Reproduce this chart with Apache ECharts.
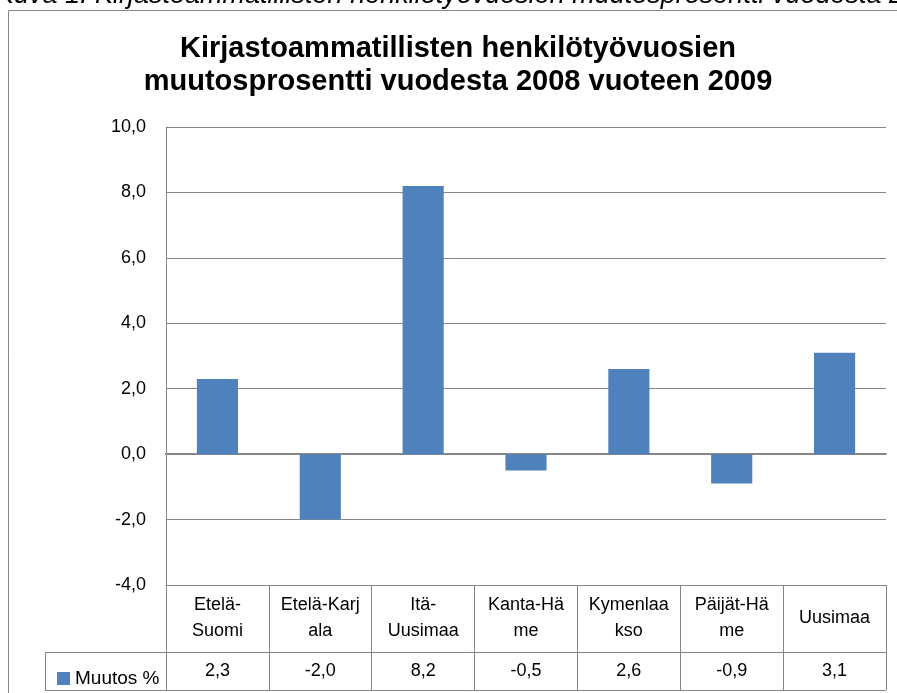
<!DOCTYPE html>
<html><head><meta charset="utf-8">
<script src="https://cdn.jsdelivr.net/npm/echarts@6/dist/echarts.min.js"></script>
<style>html,body{margin:0;padding:0;background:#fff}#c{width:897px;height:693px}</style>
</head><body><div id="c"></div>
<script>
const captionText = 'Kuva 1. Kirjastoammatillisten henkilötyövuosien muutosprosentti vuodesta 2008 vuoteen 2009';
const titleLines = ['Kirjastoammatillisten henkilötyövuosien', 'muutosprosentti vuodesta 2008 vuoteen 2009'];
const categories = ['Etelä-\nSuomi', 'Etelä-Karj\nala', 'Itä-\nUusimaa', 'Kanta-Hä\nme', 'Kymenlaa\nkso', 'Päijät-Hä\nme', 'Uusimaa'];
const seriesName = 'Muutos %';
const values = [2.3, -2.0, 8.2, -0.5, 2.6, -0.9, 3.1];
const yMin = -4, yMax = 10, yStep = 2;

const fmt = v => v.toFixed(1).replace('.', ',');
const FONT = "'Liberation Sans',Arial,sans-serif";
const GRID = {left: 166, right: 11, top: 127, bottom: 108};
const W = 897, H = 693;
const gx0 = GRID.left, gx1 = W - GRID.right, gyB = H - GRID.bottom;
const row1 = 67, row2 = 38;
const lineCol = '#868686';

const chart = echarts.init(document.getElementById('c'), null, {renderer: 'canvas'});
chart.setOption({
  animation: false,
  backgroundColor: '#fff',
  grid: GRID,
  legend: {
    data: [seriesName], left: 52, top: gyB + row1 + 12, icon: 'rect', itemWidth: 13, itemHeight: 13, itemGap: 4,
    textStyle: {fontFamily: FONT, fontSize: 19, color: '#000'}
  },
  xAxis: [
    {type: 'category', data: categories, position: 'bottom',
     axisLine: {show: true, onZero: true, lineStyle: {color: lineCol, width: 2}},
     axisTick: {show: false}, axisLabel: {show: false}},
    {type: 'category', data: categories, position: 'bottom',
     axisLine: {show: true, onZero: false, lineStyle: {color: lineCol, width: 1}},
     axisTick: {show: true, length: row1 + row2, lineStyle: {color: lineCol}},
     axisLabel: {show: true, margin: row1 / 2, verticalAlign: 'middle', lineHeight: 26,
                 fontFamily: FONT, fontSize: 18, color: '#000', interval: 0}},
    {type: 'category', data: values.map(fmt), position: 'bottom', offset: row1,
     axisLine: {show: false}, axisTick: {show: false},
     axisLabel: {show: true, margin: row2 / 2, verticalAlign: 'middle',
                 fontFamily: FONT, fontSize: 18, color: '#000', interval: 0}}
  ],
  yAxis: {
    type: 'value', min: yMin, max: yMax, interval: yStep,
    axisLine: {show: true, lineStyle: {color: lineCol}},
    axisTick: {show: false},
    axisLabel: {formatter: fmt, margin: 20, fontFamily: FONT, fontSize: 18, color: '#000'},
    splitLine: {show: true, lineStyle: {color: lineCol, width: 1}}
  },
  series: [{
    name: seriesName, type: 'bar', data: values, xAxisIndex: 1,
    barWidth: '40%', itemStyle: {color: '#4f81bd'}
  }],
  graphic: [
    {type: 'text', left: -4, top: -18, style: {text: captionText, font: 'italic 27px "Liberation Sans", Arial, sans-serif', fill: '#000'}},
    {type: 'rect', shape: {x: 8.5, y: 10.5, width: 950, height: 750}, style: {fill: 'none', stroke: '#888', lineWidth: 1}},
    {type: 'text', x: 458, y: 32, style: {text: titleLines.join('\n'), textAlign: 'center', font: 'bold 29px "Liberation Sans", Arial, sans-serif', lineHeight: 33, fill: '#000'}},
    {type: 'line', shape: {x1: 45, y1: gyB + row1 + 0.5, x2: gx1, y2: gyB + row1 + 0.5}, style: {stroke: lineCol, lineWidth: 1}},
    {type: 'line', shape: {x1: 45, y1: gyB + row1 + row2 + 0.5, x2: gx1, y2: gyB + row1 + row2 + 0.5}, style: {stroke: lineCol, lineWidth: 1}},
    {type: 'line', shape: {x1: 45.5, y1: gyB + row1, x2: 45.5, y2: gyB + row1 + row2}, style: {stroke: lineCol, lineWidth: 1}}
  ]
});
</script></body></html>
